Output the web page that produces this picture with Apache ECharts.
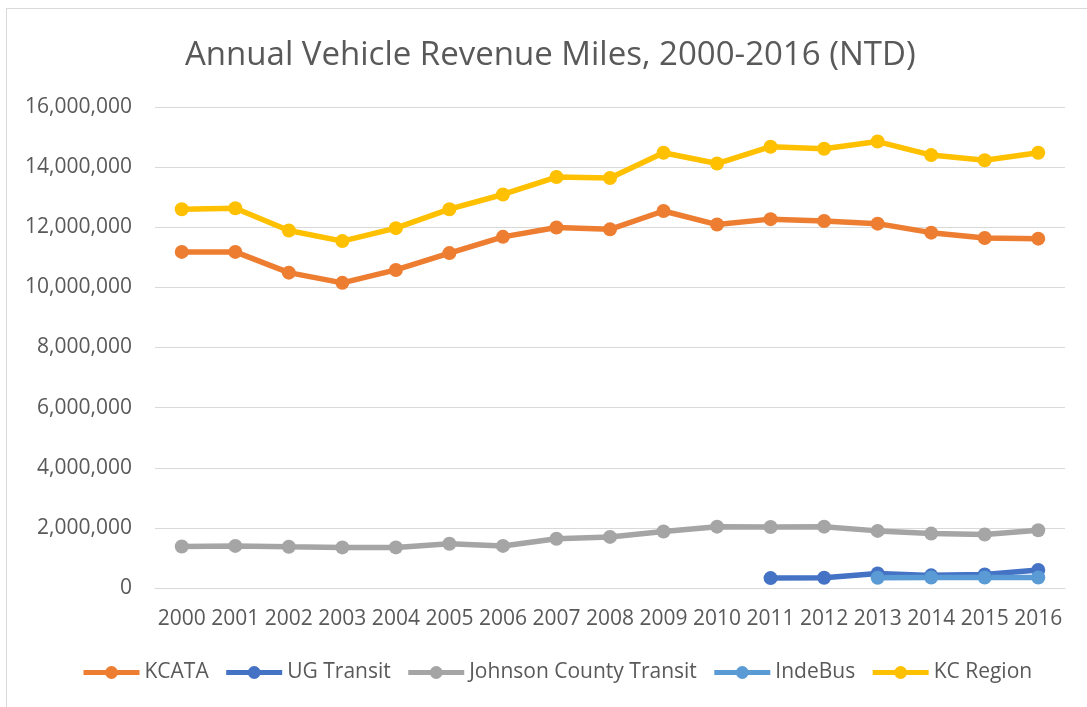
<!DOCTYPE html>
<html>
<head>
<meta charset="utf-8">
<title>Annual Vehicle Revenue Miles</title>
<script src="https://cdn.jsdelivr.net/npm/echarts@6/dist/echarts.min.js"></script>
<style>
  html, body {
    margin: 0;
    padding: 0;
    background: #fff;
    overflow: hidden;
  }
  #frame {
    position: absolute;
    left: 6px;
    top: 8px;
    width: 1200px;
    height: 800px;
    border: 1px solid #d9d9d9;
  }
  #chart {
    position: absolute;
    left: 0;
    top: 0;
    width: 1087px;
    height: 707px;
  }
</style>
</head>
<body>
<div id="frame"></div>
<div id="chart"></div>
<script>
  // years on the x axis
  const years = ['2000', '2001', '2002', '2003', '2004', '2005', '2006', '2007', '2008',
    '2009', '2010', '2011', '2012', '2013', '2014', '2015', '2016'];

  // vehicle revenue miles per agency
  const kcata = [11180000, 11180000, 10490000, 10150000, 10580000, 11140000, 11680000, 11990000, 11930000,
    12540000, 12090000, 12270000, 12210000, 12120000, 11820000, 11640000, 11620000];
  const ugTransit = [null, null, null, null, null, null, null, null, null,
    null, null, 330000, 340000, 480000, 420000, 450000, 600000];
  const johnsonCounty = [1380000, 1400000, 1370000, 1350000, 1350000, 1470000, 1400000, 1640000, 1700000,
    1880000, 2040000, 2030000, 2040000, 1900000, 1810000, 1780000, 1920000];
  const indeBus = [null, null, null, null, null, null, null, null, null,
    null, null, null, null, 340000, 350000, 350000, 350000];
  const kcRegion = [12600000, 12630000, 11890000, 11540000, 11970000, 12600000, 13090000, 13670000, 13640000,
    14480000, 14120000, 14680000, 14610000, 14850000, 14400000, 14230000, 14480000];

  const yTicks = { min: 0, max: 16000000, interval: 2000000 };

  const font = '"Open Sans", "Liberation Sans", sans-serif';
  const textColor = '#595959';

  function lineSeries(name, data, color) {
    return {
      name: name,
      type: 'line',
      data: data,
      symbol: 'circle',
      symbolSize: 14,
      showSymbol: true,
      connectNulls: false,
      lineStyle: { width: 5.5, color: color },
      itemStyle: { color: color },
      emphasis: { disabled: true }
    };
  }

  const chart = echarts.init(document.getElementById('chart'));

  const option = {
    animation: false,
    backgroundColor: 'transparent',
    textStyle: { fontFamily: font },
    title: {
      text: 'Annual Vehicle Revenue Miles, 2000-2016 (NTD)',
      left: 185,
      top: 39,
      padding: 0,
      textStyle: {
        fontFamily: font,
        fontSize: 33,
        fontWeight: 'normal',
        color: textColor
      }
    },
    grid: {
      left: 155,
      right: 22,
      top: 107,
      bottom: 119,
      containLabel: false
    },
    legend: {
      top: 662,
      left: 81,
      padding: 0,
      itemWidth: 56,
      itemHeight: 16,
      itemGap: 15,
      lineStyle: { width: 5 },
      textStyle: {
        fontFamily: font,
        fontSize: 21,
        color: textColor
      },
      data: ['KCATA', 'UG Transit', 'Johnson County Transit', 'IndeBus', 'KC Region']
    },
    xAxis: {
      type: 'category',
      data: years,
      boundaryGap: true,
      axisLine: { show: true, lineStyle: { color: '#d9d9d9', width: 1 } },
      axisTick: { show: false },
      axisLabel: {
        margin: 21,
        fontFamily: font,
        fontSize: 21,
        color: textColor,
        interval: 0
      },
      splitLine: { show: false }
    },
    yAxis: {
      type: 'value',
      min: yTicks.min,
      max: yTicks.max,
      interval: yTicks.interval,
      axisLine: { show: false },
      axisTick: { show: false },
      axisLabel: {
        margin: 23,
        fontFamily: font,
        fontSize: 21,
        color: textColor,
        formatter: function (v) {
          return v.toLocaleString('en-US');
        }
      },
      splitLine: { lineStyle: { color: '#d9d9d9', width: 1 } }
    },
    series: [
      lineSeries('KCATA', kcata, '#ED7D31'),
      lineSeries('UG Transit', ugTransit, '#4472C4'),
      lineSeries('Johnson County Transit', johnsonCounty, '#A5A5A5'),
      lineSeries('IndeBus', indeBus, '#5B9BD5'),
      lineSeries('KC Region', kcRegion, '#FFC000')
    ]
  };

  chart.setOption(option);
</script>
</body>
</html>
